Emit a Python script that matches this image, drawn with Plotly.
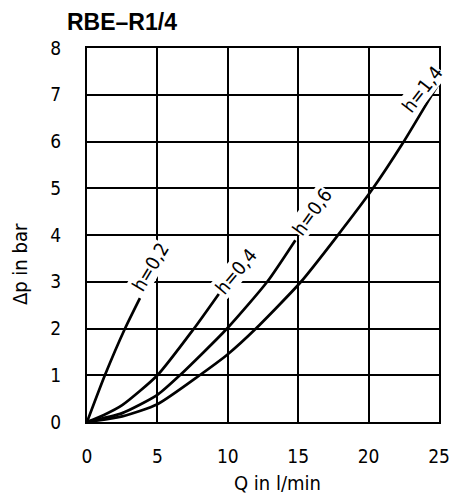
import plotly.graph_objects as go

# Data (Q in l/min, dp in bar)
q_h02 = [0, 1.27, 2.7, 3.76]
p_h02 = [0, 1.0, 2.0, 2.65]

q_h04 = [0, 1.2, 2.5, 5.0, 7.6, 9.36]
p_h04 = [0, 0.15, 0.36, 1.0, 2.0, 2.74]

q_h06 = [0, 2.5, 5.0, 6.6, 9.95, 12.8, 14.8]
p_h06 = [0, 0.19, 0.58, 1.0, 2.0, 3.0, 3.89]

q_h14 = [0, 2.5, 5.0, 8.0, 10.0, 12.0, 15.2, 17.7, 20.2, 22.4, 24.4, 25.0]
p_h14 = [0, 0.12, 0.38, 1.0, 1.45, 2.0, 3.0, 3.95, 4.95, 5.95, 6.95, 7.25]

labels = ["h=0,2", "h=0,4", "h=0,6", "h=1,4"]
label_x = [4.47, 10.6, 15.96, 23.8]
label_y = [3.32, 3.22, 4.49, 7.12]
label_angle = [-59, -50, -54, -52]

x_ticks = [0, 5, 10, 15, 20, 25]
y_ticks = [0, 1, 2, 3, 4, 5, 6, 7, 8]

FONT = "DejaVu Sans Condensed, DejaVu Sans, sans-serif"

fig = go.Figure()
for qs, ps in [(q_h02, p_h02), (q_h04, p_h04), (q_h06, p_h06), (q_h14, p_h14)]:
    fig.add_trace(go.Scatter(x=qs, y=ps, mode="lines",
                             line=dict(color="black", width=2.7, shape="spline", smoothing=0.6),
                             showlegend=False, hoverinfo="skip"))

for t, lx, ly, a in zip(labels, label_x, label_y, label_angle):
    fig.add_annotation(x=lx, y=ly, xref="x", yref="y", text=t, showarrow=False,
                       textangle=a, bgcolor="white", borderpad=0,
                       font=dict(family=FONT, size=19, color="black"))

fig.add_annotation(x=-0.062, y=1.07, xref="paper", yref="paper", text="<b>RBE–R1/4</b>",
                   showarrow=False, xanchor="left", yanchor="middle",
                   font=dict(family="Liberation Sans, Arial, sans-serif", size=23, color="black"))
fig.add_annotation(x=0.54, y=-0.163, xref="paper", yref="paper", text="Q in l/min",
                   showarrow=False, xanchor="center", yanchor="middle",
                   font=dict(family=FONT, size=20, color="black"))
fig.add_annotation(x=-0.19, y=0.4225, xref="paper", yref="paper", text="Δp in bar",
                   showarrow=False, textangle=-90, xanchor="center", yanchor="middle",
                   font=dict(family=FONT, size=20, color="black"))

fig.update_xaxes(range=[0, 25], tickvals=x_ticks, ticktext=[str(v) for v in x_ticks],
                 showgrid=True, gridcolor="black", gridwidth=1.5, zeroline=False,
                 showline=True, linecolor="black", linewidth=2.2, mirror=True,
                 ticks="", ticklabelstandoff=16, automargin=False,
                 tickfont=dict(family=FONT, size=19, color="black"))
fig.update_yaxes(range=[0, 8], tickvals=y_ticks, ticktext=[str(v) for v in y_ticks],
                 showgrid=True, gridcolor="black", gridwidth=1.5, zeroline=False,
                 showline=True, linecolor="black", linewidth=2.2, mirror=True,
                 ticks="", ticklabelstandoff=20, automargin=False,
                 tickfont=dict(family=FONT, size=19, color="black"))

fig.update_layout(width=452, height=494, margin=dict(l=87, r=13, t=48, b=72),
                  plot_bgcolor="white", paper_bgcolor="white")

fig.write_html("out.html", config={"displayModeBar": False},
               post_script="document.body.style.margin='0';document.body.style.overflow='hidden';")
